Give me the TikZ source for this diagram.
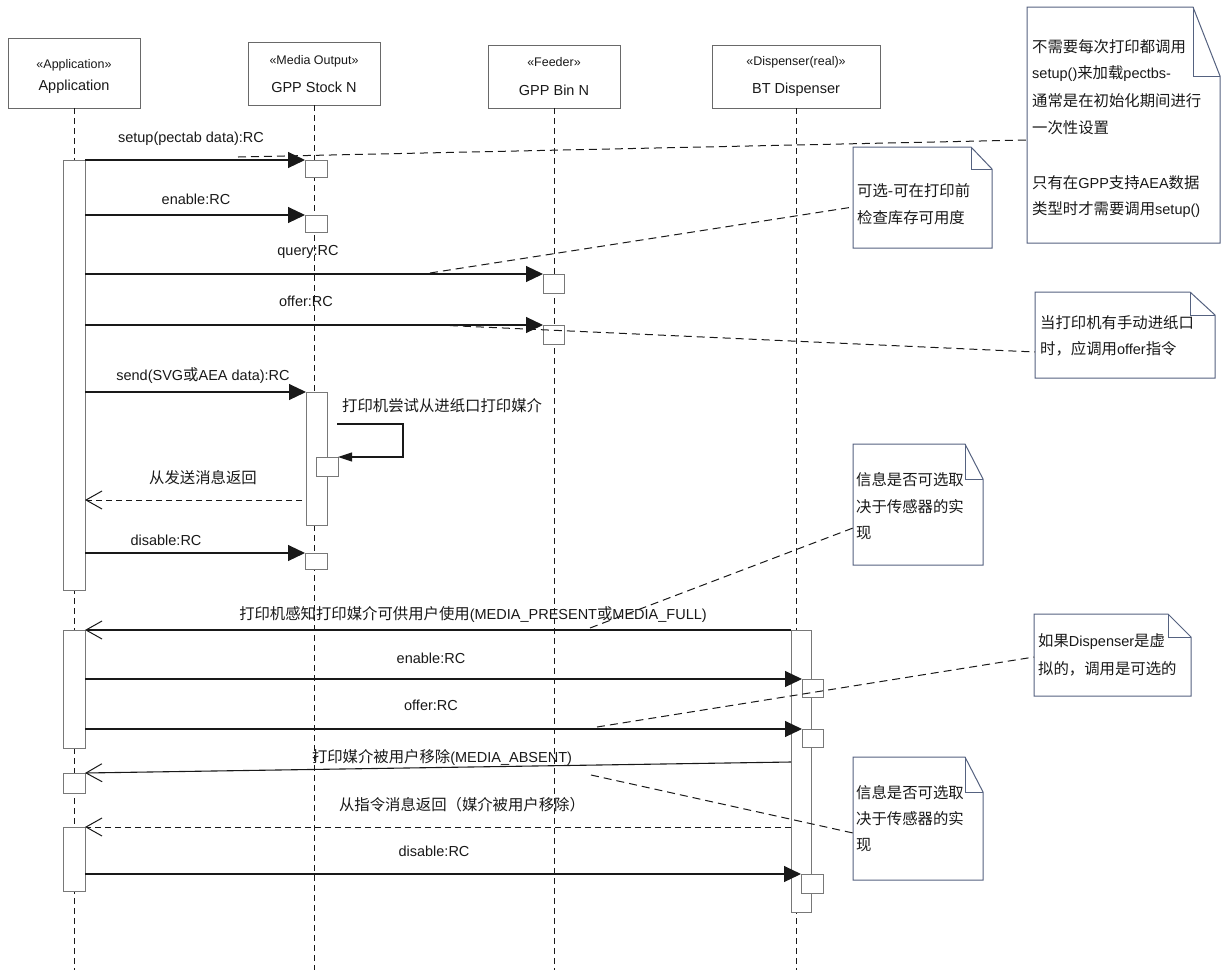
\documentclass[tikz,border=0pt]{standalone}
\usepackage{fontspec}
\setmainfont{Liberation Sans}
\newfontfamily\cjkfont[Scale=1.06]{Noto Sans CJK SC}
\newcommand\zh[1]{{\cjkfont #1}}
\usetikzlibrary{arrows.meta}
\definecolor{hdrgray}{RGB}{105,105,105}
\definecolor{actgray}{RGB}{120,120,120}
\definecolor{notegray}{RGB}{85,98,128}
\definecolor{inkc}{RGB}{25,25,25}
\tikzset{
  hdr/.style={draw=hdrgray, fill=white, line width=0.9pt, inner sep=0pt, outer sep=0pt, anchor=north west},
  actbox/.style={draw=actgray, fill=white, line width=0.9pt, inner sep=0pt, outer sep=0pt, anchor=north west},
  lifeline/.style={draw=inkc, line width=1pt, dash pattern=on 6pt off 4pt},
  callmsg/.style={draw=inkc, line width=1.1pt, -{Triangle[length=17pt,width=16pt]}},
  selfmsg/.style={draw=inkc, line width=1.1pt, -{Triangle[length=14pt,width=9pt]}},
  asyncmsg/.style={draw=inkc, line width=1.1pt, -{Straight Barb[length=16pt,width=18pt,line width=1pt]}},
  retmsg/.style={draw=inkc, line width=1pt, dash pattern=on 6pt off 4pt, -{Straight Barb[length=16pt,width=18pt,line width=1pt]}},
  notecon/.style={draw=inkc, line width=1pt, dash pattern=on 8pt off 5pt},
  notedraw/.style={draw=notegray, fill=white, line width=1pt},
  lbl/.style={inner sep=0pt, text=inkc, font=\fontsize{14.5}{17}\selectfont},
  stereo/.style={inner sep=0pt, text=inkc, font=\fontsize{12.5}{15}\selectfont},
  notetxt/.style={anchor=west, inner sep=0pt, text=inkc, font=\fontsize{14.5}{17}\selectfont},
}
\newcommand\ABox[5]{\node[actbox, minimum width=#4pt, minimum height=#5pt] (#1) at (#2,#3) {};}
\newcommand\NoteShape[7]{%
  \draw[notedraw] (#2,#3) -- (#6,#3) -- (#4,#7) -- (#4,#5) -- (#2,#5) -- cycle;
  \draw[draw=notegray, line width=1pt] (#6,#3) -- (#6,#7) -- (#4,#7);
  \coordinate (#1) at (#2,#3);}
\begin{document}
\begin{tikzpicture}[x=1pt,y=-1pt]
\useasboundingbox (0,0) rectangle (1224,970);
\fill[white] (0,0) rectangle (1224,970);

% headers
\node[hdr, minimum width=132pt, minimum height=70pt] (hApp) at (8,38) {};
\node[hdr, minimum width=132pt, minimum height=63pt] (hStock) at (248,42) {};
\node[hdr, minimum width=132pt, minimum height=63pt] (hBin) at (488,45) {};
\node[hdr, minimum width=168pt, minimum height=63pt] (hDisp) at (712,45) {};
\node[stereo] (tApp1) at (74,65) {«Application»};
\node[lbl] (tApp2) at (74,87) {Application};
\node[stereo] (tStock1) at (314,61) {«Media Output»};
\node[lbl] (tStock2) at (314,87) {GPP Stock N};
\node[stereo] (tBin1) at (554,62) {«Feeder»};
\node[lbl] (tBin2) at (554,90) {GPP Bin N};
\node[stereo] (tDisp1) at (796,62) {«Dispenser(real)»};
\node[lbl] (tDisp2) at (796,90) {BT Dispenser};

% lifelines
\coordinate (eApp) at (74,970);
\coordinate (eStock) at (314,970);
\coordinate (eBin) at (554,970);
\coordinate (eDisp) at (796,970);
\draw[lifeline] (hApp.south) -- (eApp);
\draw[lifeline] (hStock.south) -- (eStock);
\draw[lifeline] (hBin.south) -- (eBin);
\draw[lifeline] (hDisp.south) -- (eDisp);

% activation boxes
\ABox{aA1}{63}{160}{22}{430}
\ABox{aA2}{63}{630}{22}{118}
\ABox{aA3}{63}{773}{22}{20}
\ABox{aA4}{63}{827}{22}{64}
\ABox{sS1}{305}{160}{22}{17}
\ABox{sS2}{305}{215}{22}{17}
\ABox{sS3}{306}{392}{21}{133}
\ABox{sS4}{316}{457}{22}{19}
\ABox{sS5}{305}{553}{22}{16}
\ABox{bB1}{543}{274}{21}{19}
\ABox{bB2}{543}{325}{21}{19}
\ABox{dD1}{791}{630}{20}{282}
\ABox{dD2}{802}{679}{21}{18}
\ABox{dD3}{802}{729}{21}{18}
\ABox{dD4}{801}{874}{22}{19}

% messages
\draw[callmsg] (aA1.east |- sS1.north west) -- (sS1.north west);
\node[lbl] (m1) at (191,139) {setup(pectab data):RC};
\draw[callmsg] (aA1.east |- sS2.north west) -- (sS2.north west);
\node[lbl] (m2) at (196,199) {enable:RC};
\draw[callmsg] (aA1.east |- bB1.north west) -- (bB1.north west);
\node[lbl] (m3) at (308,252) {query:RC};
\draw[callmsg] (aA1.east |- bB2.north west) -- (bB2.north west);
\node[lbl] (m4) at (306,301) {offer:RC};
\draw[callmsg] (aA1.east |- sS3.north west) -- (sS3.north west);
\node[lbl] (m5) at (203,376) {send(SVG\zh{或}AEA data):RC};
\coordinate (self0) at (337,424);
\coordinate (self1) at (403,424);
\coordinate (self2) at (403,457);
\draw[selfmsg] (self0) -- (self1) -- (self2) -- (sS4.north east);
\node[lbl, anchor=west] (m6) at (342,406) {\zh{打印机尝试从进纸口打印媒介}};
\coordinate (r7a) at (302,500);
\draw[retmsg] (r7a) -- (aA1.east |- r7a);
\node[lbl] (m7) at (203,478) {\zh{从发送消息返回}};
\draw[callmsg] (aA1.east |- sS5.north west) -- (sS5.north west);
\node[lbl] (m8) at (166,540) {disable:RC};

\draw[asyncmsg] (dD1.north west) -- (aA2.north east);
\node[lbl] (m9) at (473,614) {\zh{打印机感知打印媒介可供用户使用}(MEDIA\_PRESENT\zh{或}MEDIA\_FULL)};
\draw[callmsg] (aA2.east |- dD2.north west) -- (dD2.north west);
\node[lbl] (m10) at (431,658) {enable:RC};
\draw[callmsg] (aA2.east |- dD3.north west) -- (dD3.north west);
\node[lbl] (m11) at (431,705) {offer:RC};
\coordinate (r12a) at (791,762);
\draw[asyncmsg] (r12a) -- (aA3.north east);
\node[lbl] (m12) at (442,757) {\zh{打印媒介被用户移除}(MEDIA\_ABSENT)};
\draw[retmsg] (dD1.west |- aA4.north east) -- (aA4.north east);
\node[lbl] (m13) at (462,805) {\zh{从指令消息返回（媒介被用户移除）}};
\draw[callmsg] (aA4.east |- dD4.north west) -- (dD4.north west);
\node[lbl] (m14) at (434,851) {disable:RC};

% notes
\NoteShape{nA}{1027}{7}{1220}{243}{1193}{76}
\node[notetxt] (nA1) at (1032,47) {\zh{不需要每次打印都调用}};
\node[notetxt] (nA2) at (1032,74) {setup()\zh{来加载}pectbs-};
\node[notetxt] (nA3) at (1032,101) {\zh{通常是在初始化期间进行}};
\node[notetxt] (nA4) at (1032,128) {\zh{一次性设置}};
\node[notetxt] (nA5) at (1032,183) {\zh{只有在}GPP\zh{支持}AEA\zh{数据}};
\node[notetxt] (nA6) at (1032,210) {\zh{类型时才需要调用}setup()};

\NoteShape{nB}{853}{147}{992}{248}{971}{169}
\node[notetxt] (nB1) at (857,191) {\zh{可选-可在打印前}};
\node[notetxt] (nB2) at (857,218) {\zh{检查库存可用度}};

\NoteShape{nC}{1035}{292}{1215}{378}{1190}{315}
\node[notetxt] (nC1) at (1040,323) {\zh{当打印机有手动进纸口}};
\node[notetxt] (nC2) at (1040,349) {\zh{时，应调用}offer\zh{指令}};

\NoteShape{nD}{853}{444}{983}{565}{965}{479}
\node[notetxt] (nD1) at (856,480) {\zh{信息是否可选取}};
\node[notetxt] (nD2) at (856,507) {\zh{决于传感器的实}};
\node[notetxt] (nD3) at (856,533) {\zh{现}};

\NoteShape{nE}{1034}{614}{1191}{696}{1168}{637}
\node[notetxt] (nE1) at (1038,642) {\zh{如果}Dispenser\zh{是虚}};
\node[notetxt] (nE2) at (1038,669) {\zh{拟的，调用是可选的}};

\NoteShape{nF}{853}{757}{983}{880}{965}{792}
\node[notetxt] (nF1) at (856,793) {\zh{信息是否可选取}};
\node[notetxt] (nF2) at (856,819) {\zh{决于传感器的实}};
\node[notetxt] (nF3) at (856,845) {\zh{现}};

% note connectors
\coordinate (cA) at (238,157);
\coordinate (cB) at (430,273);
\coordinate (cC) at (437,325);
\coordinate (cD) at (590,628);
\coordinate (cE) at (597,727);
\coordinate (cF) at (591,775);
\draw[notecon] (cA) -- (nA |- 0,140);
\draw[notecon] (cB) -- (nB |- 0,207);
\draw[notecon] (cC) -- (nC |- 0,352);
\draw[notecon] (cD) -- (nD |- 0,528);
\draw[notecon] (cE) -- (nE |- 0,657);
\draw[notecon] (cF) -- (nF |- 0,833);
\end{tikzpicture}
\end{document}
